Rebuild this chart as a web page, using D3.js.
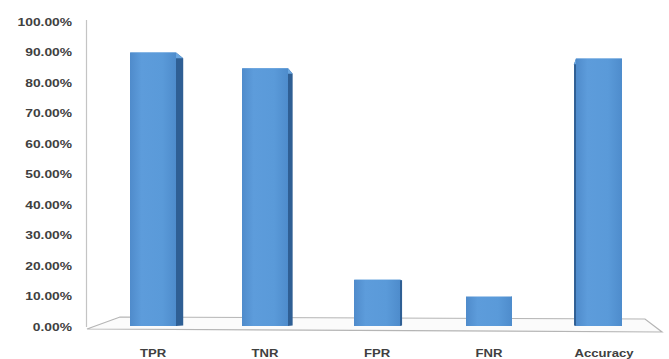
<!DOCTYPE html>
<html>
<head>
<meta charset="utf-8">
<script src="https://cdn.jsdelivr.net/npm/d3@7"></script>
<style>
  html, body { margin: 0; padding: 0; background: #fff; }
  svg { display: block; }
  .lbl { font-family: "Liberation Sans", Arial, sans-serif; font-weight: bold; font-size: 10px; fill: #404040; }
</style>
</head>
<body>
<svg id="chart" width="669" height="359"></svg>
<script>
// Classifier performance metrics
const categories = ["TPR", "TNR", "FPR", "FNR", "Accuracy"];
const values = [0.90, 0.848, 0.155, 0.10, 0.88];
const yTicks = [0, 0.1, 0.2, 0.3, 0.4, 0.5, 0.6, 0.7, 0.8, 0.9, 1.0];

const svg = d3.select("#chart");

const plot = { left: 97, right: 657, top: 22, bottom: 327 };

const x = d3.scaleBand().domain(categories).range([plot.left, plot.right]).padding(0);
const y = d3.scaleLinear().domain([0, 1]).range([plot.bottom, plot.top]);
const fmt = d3.format(".2%");
const stretch = 1.38;   // wide lettering

// gradient for the front faces of the columns
const defs = svg.append("defs");
const g1 = defs.append("linearGradient").attr("id", "front").attr("x1", 0).attr("x2", 1).attr("y1", 0).attr("y2", 0);
g1.append("stop").attr("offset", "0%").attr("stop-color", "#4f8bcb");
g1.append("stop").attr("offset", "25%").attr("stop-color", "#5d9cdb");
g1.append("stop").attr("offset", "70%").attr("stop-color", "#5a9ad9");
g1.append("stop").attr("offset", "100%").attr("stop-color", "#4e8ccc");

// walls and floor
const floorFront = [[87, 329], [662, 332]];
const floorBack = [[120, 317], [645, 319]];
svg.append("path")
  .attr("d", `M${floorFront[0]}L${floorFront[1]}L${floorBack[1]}L${floorBack[0]}Z`)
  .attr("fill", "#fbfbfb").attr("stroke", "#b5b5b5").attr("stroke-width", 1.2);
svg.append("line")
  .attr("x1", 86.5).attr("x2", 86.5).attr("y1", 20).attr("y2", 327)
  .attr("stroke", "#c4c4c4").attr("stroke-width", 1.2);

// y-axis labels
const yAxis = svg.append("g").attr("class", "yaxis");
yAxis.selectAll("text").data(yTicks).join("text")
  .attr("class", "lbl")
  .attr("text-anchor", "end")
  .attr("dy", "0.35em")
  .attr("transform", d => `translate(72,${y(d)}) scale(${stretch},1)`)
  .text(d => fmt(d));

// columns with a perspective side face
const vp = [490, 300];
const depth = 0.023;
const barW = 46;
const bars = svg.append("g").attr("class", "bars");
categories.forEach((c, i) => {
  const cx = x(c) + x.bandwidth() / 2 + (i === 4 ? -2 : 0);
  const x0 = cx - barW / 2, x1 = cx + barW / 2;
  const yt = y(values[i]), yb = y(0) - 1;
  const back = p => [p[0] + (vp[0] - p[0]) * depth, p[1] + (vp[1] - p[1]) * depth];
  // side face on the side facing away from the vanishing point
  const sx = cx < vp[0] ? x1 : x0;
  const a = [sx, yt], b = [sx, yb];
  const ab = back(a), bb = back(b);
  bars.append("path")
    .attr("d", `M${a}L${ab}L${bb}L${b}Z`)
    .attr("fill", "#2f5f94");
  // top face
  const tl = [x0, yt], tr = [x1, yt];
  bars.append("path")
    .attr("d", `M${tl}L${tr}L${back(tr)}L${back(tl)}Z`)
    .attr("fill", "#6aa6e0");
  // front face
  bars.append("rect")
    .attr("x", x0).attr("y", yt)
    .attr("width", barW).attr("height", yb - yt)
    .attr("fill", "url(#front)");
});

// category labels
svg.append("g").selectAll("text").data(categories).join("text")
  .attr("class", "lbl")
  .attr("text-anchor", "middle")
  .attr("transform", (d, i) => `translate(${x(d) + x.bandwidth() / 2 + (i === 4 ? 3 : 0)},357) scale(${stretch * 0.95},1)`)
  .text(d => d);
</script>
</body>
</html>
